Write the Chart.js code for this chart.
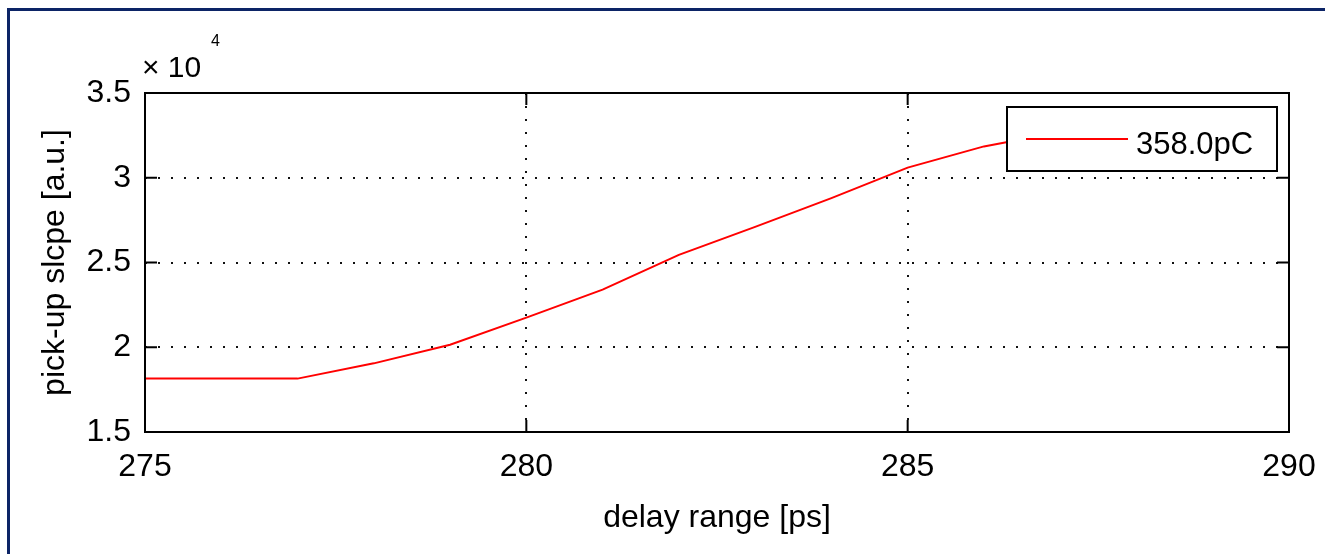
<!DOCTYPE html>
<html>
<head>
<meta charset="utf-8">
<script src="https://cdn.jsdelivr.net/npm/chart.js@4.4.1/dist/chart.umd.min.js"></script>
<style>
  html, body { margin: 0; padding: 0; background: #fff; }
  .wrap { position: relative; width: 1325px; height: 554px; }
  .frame {
    position: absolute; left: 7px; top: 8px; right: 0; bottom: 0;
    border-left: 3px solid #0c2466; border-top: 3px solid #0c2466;
    pointer-events: none;
  }
  canvas { position: absolute; left: 0; top: 0; }
</style>
</head>
<body>
<div class="wrap">
  <canvas id="chart" width="1325" height="554"></canvas>
  <div class="frame"></div>
</div>
<script>
// delay steps [ps] and measured pick-up slope [a.u.]
const delays = [275, 276, 277, 278, 279, 280, 281, 282, 283, 284, 285, 286, 287, 288];
const slope = [18150, 18150, 18150, 19050, 20150, 21750, 23400, 25450, 27100, 28800, 30600, 31850, 32700, 33300];
const seriesLabel = '358.0pC';
const xTicks = [275, 280, 285, 290];
const yTicks = [15000, 20000, 25000, 30000, 35000];

const FONT = '"Liberation Sans", Arial, Helvetica, sans-serif';

// box around the axes with inward tick marks (matlab style)
const axesBox = {
  id: 'axesBox',
  afterDatasetsDraw(chart) {
    const { ctx, chartArea: a, scales: { x, y } } = chart;
    ctx.save();
    ctx.strokeStyle = '#000';
    ctx.lineWidth = 2;
    ctx.strokeRect(a.left, a.top, a.right - a.left, a.bottom - a.top);
    const len = 12;
    ctx.beginPath();
    x.ticks.forEach(t => {
      const px = x.getPixelForValue(t.value);
      ctx.moveTo(px, a.bottom); ctx.lineTo(px, a.bottom - len);
      ctx.moveTo(px, a.top); ctx.lineTo(px, a.top + len);
    });
    y.ticks.forEach(t => {
      const py = y.getPixelForValue(t.value);
      ctx.moveTo(a.left, py); ctx.lineTo(a.left + len, py);
      ctx.moveTo(a.right, py); ctx.lineTo(a.right - len, py);
    });
    ctx.stroke();

    // exponent label above the y axis
    ctx.fillStyle = '#000';
    ctx.textBaseline = 'alphabetic';
    ctx.textAlign = 'left';
    ctx.font = '30px ' + FONT;
    ctx.fillText('\u00d7 10', a.left - 3, a.top - 16);
    ctx.font = '16px ' + FONT;
    ctx.fillText('4', a.left + 66, a.top - 47);
    ctx.restore();
  }
};

// legend box in the upper right corner of the axes
const boxLegend = {
  id: 'boxLegend',
  afterDraw(chart) {
    const { ctx, chartArea: a } = chart;
    const ds = chart.data.datasets[0];
    const w = 270, h = 64;
    const left = a.right - 12 - w, top = a.top + 14;
    ctx.save();
    ctx.fillStyle = '#fff';
    ctx.fillRect(left, top, w, h);
    ctx.strokeStyle = '#000';
    ctx.lineWidth = 2;
    ctx.strokeRect(left, top, w, h);
    ctx.strokeStyle = ds.borderColor;
    ctx.lineWidth = 2;
    ctx.beginPath();
    ctx.moveTo(left + 19, top + 32);
    ctx.lineTo(left + 121, top + 32);
    ctx.stroke();
    ctx.fillStyle = '#000';
    ctx.font = '31px ' + FONT;
    ctx.textBaseline = 'alphabetic';
    ctx.textAlign = 'left';
    ctx.fillText(ds.label, left + 129, top + 47);
    ctx.restore();
  }
};

const edgeless = (ctx) => {
  const s = ctx.scale;
  return (ctx.tick && (ctx.tick.value === s.min || ctx.tick.value === s.max)) ? 'rgba(0,0,0,0)' : '#111';
};

new Chart(document.getElementById('chart'), {
  type: 'line',
  data: {
    datasets: [{
      label: seriesLabel,
      data: delays.map((d, i) => ({ x: d, y: slope[i] })),
      borderColor: '#ff0000',
      borderWidth: 2,
      pointRadius: 0,
      tension: 0,
      fill: false
    }]
  },
  options: {
    responsive: false,
    animation: false,
    events: [],
    layout: { padding: { left: 0, top: 93, right: 36, bottom: 0 } },
    plugins: {
      legend: { display: false },
      tooltip: { enabled: false }
    },
    scales: {
      x: {
        type: 'linear',
        min: 275,
        max: 290,
        afterBuildTicks: (scale) => { scale.ticks = xTicks.map(v => ({ value: v })); },
        afterFit: (scale) => {
          scale.height = 122;
          scale.paddingLeft = 0;
          scale.paddingRight = 0;
        },
        grid: { color: edgeless, lineWidth: 2, drawTicks: false },
        border: { display: false, dash: [2, 11] },
        ticks: {
          color: '#000',
          padding: 16,
          maxRotation: 0,
          font: { family: FONT, size: 32 }
        },
        title: {
          display: true,
          text: 'delay range [ps]',
          color: '#000',
          font: { family: FONT, size: 32 },
          padding: { top: 0, bottom: 17 }
        }
      },
      y: {
        type: 'linear',
        min: 15000,
        max: 35000,
        afterBuildTicks: (scale) => { scale.ticks = yTicks.map(v => ({ value: v })); },
        afterFit: (scale) => {
          scale.width = 145;
          scale.paddingTop = 0;
          scale.paddingBottom = 0;
        },
        grid: { color: edgeless, lineWidth: 2, drawTicks: false },
        border: { display: false, dash: [2, 11] },
        ticks: {
          color: '#000',
          padding: 14,
          font: { family: FONT, size: 32 },
          callback: (v) => String(v / 10000)
        },
        title: {
          display: true,
          text: 'pick-up slcpe [a.u.]',
          color: '#000',
          font: { family: FONT, size: 32 },
          padding: { top: 36, bottom: 0 }
        }
      }
    }
  },
  plugins: [axesBox, boxLegend]
});
</script>
</body>
</html>
